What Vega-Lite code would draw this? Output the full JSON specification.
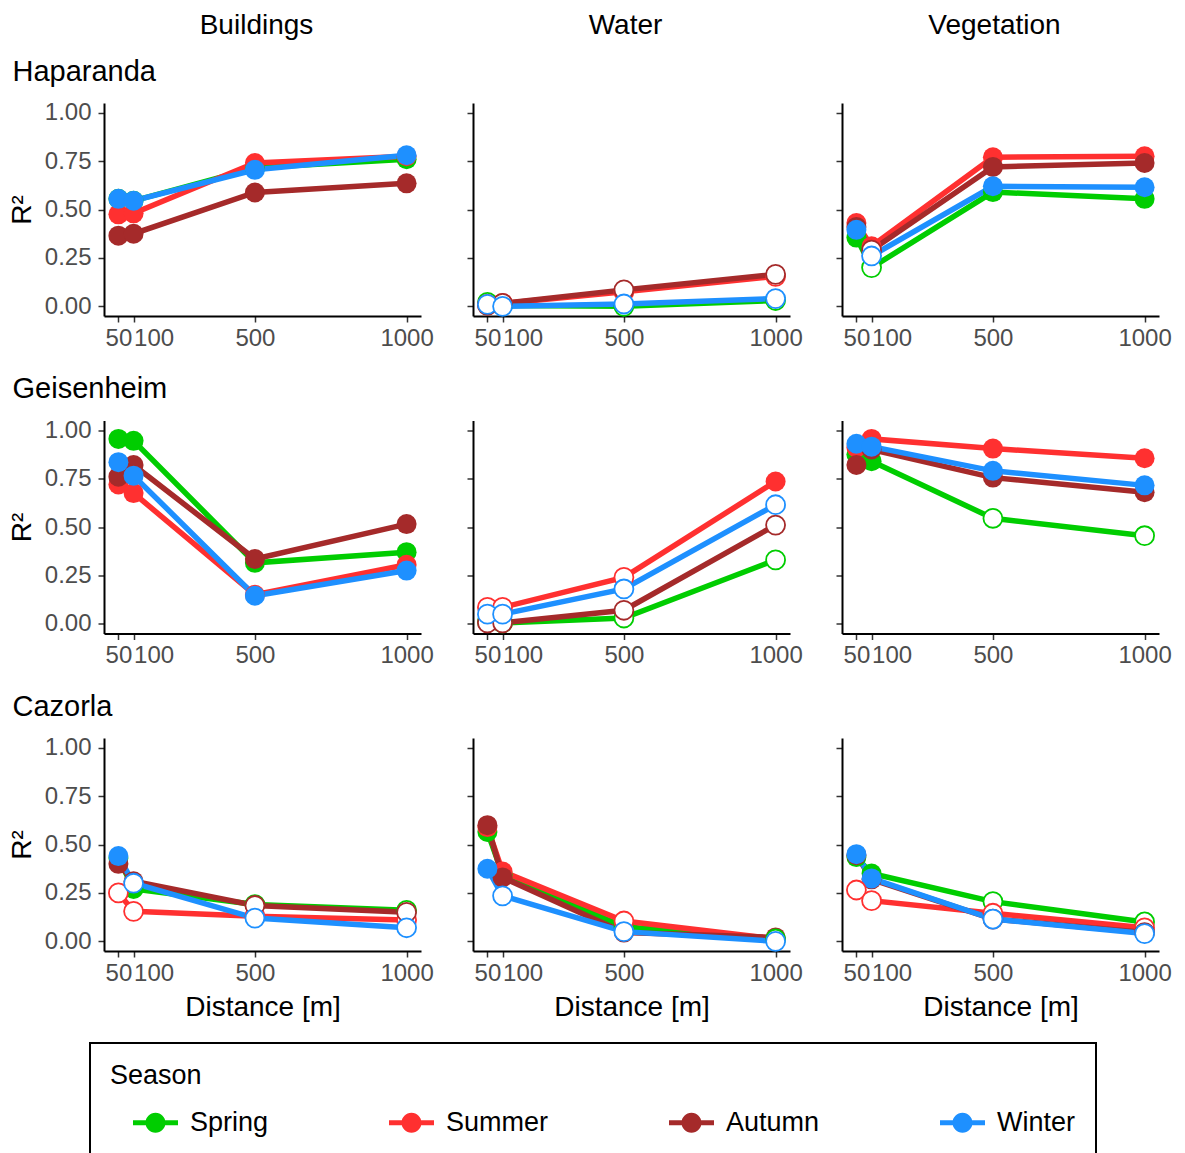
{
"$schema": "https://vega.github.io/schema/vega-lite/v6.json",
"background": "white",
"padding": {"left": 8, "top": 12, "right": 5, "bottom": 130},
"data": {"values": [
{"City":"Haparanda","Land":"Buildings","Season":"Spring","Dist":50,"R2":0.555,"Sig":true},
{"City":"Haparanda","Land":"Buildings","Season":"Spring","Dist":100,"R2":0.545,"Sig":true},
{"City":"Haparanda","Land":"Buildings","Season":"Spring","Dist":500,"R2":0.715,"Sig":true},
{"City":"Haparanda","Land":"Buildings","Season":"Spring","Dist":1000,"R2":0.76,"Sig":true},
{"City":"Haparanda","Land":"Buildings","Season":"Summer","Dist":50,"R2":0.475,"Sig":true},
{"City":"Haparanda","Land":"Buildings","Season":"Summer","Dist":100,"R2":0.48,"Sig":true},
{"City":"Haparanda","Land":"Buildings","Season":"Summer","Dist":500,"R2":0.74,"Sig":true},
{"City":"Haparanda","Land":"Buildings","Season":"Summer","Dist":1000,"R2":0.775,"Sig":true},
{"City":"Haparanda","Land":"Buildings","Season":"Autumn","Dist":50,"R2":0.365,"Sig":true},
{"City":"Haparanda","Land":"Buildings","Season":"Autumn","Dist":100,"R2":0.375,"Sig":true},
{"City":"Haparanda","Land":"Buildings","Season":"Autumn","Dist":500,"R2":0.588,"Sig":true},
{"City":"Haparanda","Land":"Buildings","Season":"Autumn","Dist":1000,"R2":0.635,"Sig":true},
{"City":"Haparanda","Land":"Buildings","Season":"Winter","Dist":50,"R2":0.555,"Sig":true},
{"City":"Haparanda","Land":"Buildings","Season":"Winter","Dist":100,"R2":0.545,"Sig":true},
{"City":"Haparanda","Land":"Buildings","Season":"Winter","Dist":500,"R2":0.705,"Sig":true},
{"City":"Haparanda","Land":"Buildings","Season":"Winter","Dist":1000,"R2":0.78,"Sig":true},
{"City":"Haparanda","Land":"Water","Season":"Spring","Dist":50,"R2":0.02,"Sig":false},
{"City":"Haparanda","Land":"Water","Season":"Spring","Dist":100,"R2":0.005,"Sig":false},
{"City":"Haparanda","Land":"Water","Season":"Spring","Dist":500,"R2":0.0,"Sig":false},
{"City":"Haparanda","Land":"Water","Season":"Spring","Dist":1000,"R2":0.03,"Sig":false},
{"City":"Haparanda","Land":"Water","Season":"Summer","Dist":50,"R2":0.01,"Sig":false},
{"City":"Haparanda","Land":"Water","Season":"Summer","Dist":100,"R2":0.015,"Sig":false},
{"City":"Haparanda","Land":"Water","Season":"Summer","Dist":500,"R2":0.075,"Sig":false},
{"City":"Haparanda","Land":"Water","Season":"Summer","Dist":1000,"R2":0.155,"Sig":false},
{"City":"Haparanda","Land":"Water","Season":"Autumn","Dist":50,"R2":0.005,"Sig":false},
{"City":"Haparanda","Land":"Water","Season":"Autumn","Dist":100,"R2":0.015,"Sig":false},
{"City":"Haparanda","Land":"Water","Season":"Autumn","Dist":500,"R2":0.085,"Sig":false},
{"City":"Haparanda","Land":"Water","Season":"Autumn","Dist":1000,"R2":0.165,"Sig":false},
{"City":"Haparanda","Land":"Water","Season":"Winter","Dist":50,"R2":0.01,"Sig":false},
{"City":"Haparanda","Land":"Water","Season":"Winter","Dist":100,"R2":0.0,"Sig":false},
{"City":"Haparanda","Land":"Water","Season":"Winter","Dist":500,"R2":0.012,"Sig":false},
{"City":"Haparanda","Land":"Water","Season":"Winter","Dist":1000,"R2":0.04,"Sig":false},
{"City":"Haparanda","Land":"Vegetation","Season":"Spring","Dist":50,"R2":0.355,"Sig":true},
{"City":"Haparanda","Land":"Vegetation","Season":"Spring","Dist":100,"R2":0.2,"Sig":false},
{"City":"Haparanda","Land":"Vegetation","Season":"Spring","Dist":500,"R2":0.59,"Sig":true},
{"City":"Haparanda","Land":"Vegetation","Season":"Spring","Dist":1000,"R2":0.555,"Sig":true},
{"City":"Haparanda","Land":"Vegetation","Season":"Summer","Dist":50,"R2":0.43,"Sig":true},
{"City":"Haparanda","Land":"Vegetation","Season":"Summer","Dist":100,"R2":0.31,"Sig":true},
{"City":"Haparanda","Land":"Vegetation","Season":"Summer","Dist":500,"R2":0.77,"Sig":true},
{"City":"Haparanda","Land":"Vegetation","Season":"Summer","Dist":1000,"R2":0.775,"Sig":true},
{"City":"Haparanda","Land":"Vegetation","Season":"Autumn","Dist":50,"R2":0.41,"Sig":true},
{"City":"Haparanda","Land":"Vegetation","Season":"Autumn","Dist":100,"R2":0.29,"Sig":false},
{"City":"Haparanda","Land":"Vegetation","Season":"Autumn","Dist":500,"R2":0.72,"Sig":true},
{"City":"Haparanda","Land":"Vegetation","Season":"Autumn","Dist":1000,"R2":0.74,"Sig":true},
{"City":"Haparanda","Land":"Vegetation","Season":"Winter","Dist":50,"R2":0.395,"Sig":true},
{"City":"Haparanda","Land":"Vegetation","Season":"Winter","Dist":100,"R2":0.26,"Sig":false},
{"City":"Haparanda","Land":"Vegetation","Season":"Winter","Dist":500,"R2":0.62,"Sig":true},
{"City":"Haparanda","Land":"Vegetation","Season":"Winter","Dist":1000,"R2":0.615,"Sig":true},
{"City":"Geisenheim","Land":"Buildings","Season":"Spring","Dist":50,"R2":0.955,"Sig":true},
{"City":"Geisenheim","Land":"Buildings","Season":"Spring","Dist":100,"R2":0.945,"Sig":true},
{"City":"Geisenheim","Land":"Buildings","Season":"Spring","Dist":500,"R2":0.315,"Sig":true},
{"City":"Geisenheim","Land":"Buildings","Season":"Spring","Dist":1000,"R2":0.37,"Sig":true},
{"City":"Geisenheim","Land":"Buildings","Season":"Summer","Dist":50,"R2":0.72,"Sig":true},
{"City":"Geisenheim","Land":"Buildings","Season":"Summer","Dist":100,"R2":0.675,"Sig":true},
{"City":"Geisenheim","Land":"Buildings","Season":"Summer","Dist":500,"R2":0.15,"Sig":true},
{"City":"Geisenheim","Land":"Buildings","Season":"Summer","Dist":1000,"R2":0.305,"Sig":true},
{"City":"Geisenheim","Land":"Buildings","Season":"Autumn","Dist":50,"R2":0.76,"Sig":true},
{"City":"Geisenheim","Land":"Buildings","Season":"Autumn","Dist":100,"R2":0.82,"Sig":true},
{"City":"Geisenheim","Land":"Buildings","Season":"Autumn","Dist":500,"R2":0.335,"Sig":true},
{"City":"Geisenheim","Land":"Buildings","Season":"Autumn","Dist":1000,"R2":0.515,"Sig":true},
{"City":"Geisenheim","Land":"Buildings","Season":"Winter","Dist":50,"R2":0.835,"Sig":true},
{"City":"Geisenheim","Land":"Buildings","Season":"Winter","Dist":100,"R2":0.765,"Sig":true},
{"City":"Geisenheim","Land":"Buildings","Season":"Winter","Dist":500,"R2":0.145,"Sig":true},
{"City":"Geisenheim","Land":"Buildings","Season":"Winter","Dist":1000,"R2":0.275,"Sig":true},
{"City":"Geisenheim","Land":"Water","Season":"Spring","Dist":50,"R2":0.01,"Sig":false},
{"City":"Geisenheim","Land":"Water","Season":"Spring","Dist":100,"R2":0.005,"Sig":false},
{"City":"Geisenheim","Land":"Water","Season":"Spring","Dist":500,"R2":0.03,"Sig":false},
{"City":"Geisenheim","Land":"Water","Season":"Spring","Dist":1000,"R2":0.33,"Sig":false},
{"City":"Geisenheim","Land":"Water","Season":"Summer","Dist":50,"R2":0.085,"Sig":false},
{"City":"Geisenheim","Land":"Water","Season":"Summer","Dist":100,"R2":0.085,"Sig":false},
{"City":"Geisenheim","Land":"Water","Season":"Summer","Dist":500,"R2":0.24,"Sig":false},
{"City":"Geisenheim","Land":"Water","Season":"Summer","Dist":1000,"R2":0.735,"Sig":true},
{"City":"Geisenheim","Land":"Water","Season":"Autumn","Dist":50,"R2":0.005,"Sig":false},
{"City":"Geisenheim","Land":"Water","Season":"Autumn","Dist":100,"R2":0.005,"Sig":false},
{"City":"Geisenheim","Land":"Water","Season":"Autumn","Dist":500,"R2":0.07,"Sig":false},
{"City":"Geisenheim","Land":"Water","Season":"Autumn","Dist":1000,"R2":0.51,"Sig":false},
{"City":"Geisenheim","Land":"Water","Season":"Winter","Dist":50,"R2":0.05,"Sig":false},
{"City":"Geisenheim","Land":"Water","Season":"Winter","Dist":100,"R2":0.05,"Sig":false},
{"City":"Geisenheim","Land":"Water","Season":"Winter","Dist":500,"R2":0.18,"Sig":false},
{"City":"Geisenheim","Land":"Water","Season":"Winter","Dist":1000,"R2":0.615,"Sig":false},
{"City":"Geisenheim","Land":"Vegetation","Season":"Spring","Dist":50,"R2":0.875,"Sig":true},
{"City":"Geisenheim","Land":"Vegetation","Season":"Spring","Dist":100,"R2":0.84,"Sig":true},
{"City":"Geisenheim","Land":"Vegetation","Season":"Spring","Dist":500,"R2":0.545,"Sig":false},
{"City":"Geisenheim","Land":"Vegetation","Season":"Spring","Dist":1000,"R2":0.455,"Sig":false},
{"City":"Geisenheim","Land":"Vegetation","Season":"Summer","Dist":50,"R2":0.91,"Sig":true},
{"City":"Geisenheim","Land":"Vegetation","Season":"Summer","Dist":100,"R2":0.955,"Sig":true},
{"City":"Geisenheim","Land":"Vegetation","Season":"Summer","Dist":500,"R2":0.905,"Sig":true},
{"City":"Geisenheim","Land":"Vegetation","Season":"Summer","Dist":1000,"R2":0.855,"Sig":true},
{"City":"Geisenheim","Land":"Vegetation","Season":"Autumn","Dist":50,"R2":0.82,"Sig":true},
{"City":"Geisenheim","Land":"Vegetation","Season":"Autumn","Dist":100,"R2":0.9,"Sig":true},
{"City":"Geisenheim","Land":"Vegetation","Season":"Autumn","Dist":500,"R2":0.755,"Sig":true},
{"City":"Geisenheim","Land":"Vegetation","Season":"Autumn","Dist":1000,"R2":0.68,"Sig":true},
{"City":"Geisenheim","Land":"Vegetation","Season":"Winter","Dist":50,"R2":0.93,"Sig":true},
{"City":"Geisenheim","Land":"Vegetation","Season":"Winter","Dist":100,"R2":0.915,"Sig":true},
{"City":"Geisenheim","Land":"Vegetation","Season":"Winter","Dist":500,"R2":0.79,"Sig":true},
{"City":"Geisenheim","Land":"Vegetation","Season":"Winter","Dist":1000,"R2":0.715,"Sig":true},
{"City":"Cazorla","Land":"Buildings","Season":"Spring","Dist":50,"R2":0.43,"Sig":true},
{"City":"Cazorla","Land":"Buildings","Season":"Spring","Dist":100,"R2":0.27,"Sig":true},
{"City":"Cazorla","Land":"Buildings","Season":"Spring","Dist":500,"R2":0.19,"Sig":false},
{"City":"Cazorla","Land":"Buildings","Season":"Spring","Dist":1000,"R2":0.16,"Sig":false},
{"City":"Cazorla","Land":"Buildings","Season":"Summer","Dist":50,"R2":0.25,"Sig":false},
{"City":"Cazorla","Land":"Buildings","Season":"Summer","Dist":100,"R2":0.155,"Sig":false},
{"City":"Cazorla","Land":"Buildings","Season":"Summer","Dist":500,"R2":0.13,"Sig":false},
{"City":"Cazorla","Land":"Buildings","Season":"Summer","Dist":1000,"R2":0.11,"Sig":false},
{"City":"Cazorla","Land":"Buildings","Season":"Autumn","Dist":50,"R2":0.4,"Sig":true},
{"City":"Cazorla","Land":"Buildings","Season":"Autumn","Dist":100,"R2":0.31,"Sig":true},
{"City":"Cazorla","Land":"Buildings","Season":"Autumn","Dist":500,"R2":0.185,"Sig":false},
{"City":"Cazorla","Land":"Buildings","Season":"Autumn","Dist":1000,"R2":0.15,"Sig":false},
{"City":"Cazorla","Land":"Buildings","Season":"Winter","Dist":50,"R2":0.44,"Sig":true},
{"City":"Cazorla","Land":"Buildings","Season":"Winter","Dist":100,"R2":0.3,"Sig":false},
{"City":"Cazorla","Land":"Buildings","Season":"Winter","Dist":500,"R2":0.12,"Sig":false},
{"City":"Cazorla","Land":"Buildings","Season":"Winter","Dist":1000,"R2":0.07,"Sig":false},
{"City":"Cazorla","Land":"Water","Season":"Spring","Dist":50,"R2":0.565,"Sig":true},
{"City":"Cazorla","Land":"Water","Season":"Spring","Dist":100,"R2":0.345,"Sig":true},
{"City":"Cazorla","Land":"Water","Season":"Spring","Dist":500,"R2":0.075,"Sig":false},
{"City":"Cazorla","Land":"Water","Season":"Spring","Dist":1000,"R2":0.012,"Sig":false},
{"City":"Cazorla","Land":"Water","Season":"Summer","Dist":50,"R2":0.59,"Sig":true},
{"City":"Cazorla","Land":"Water","Season":"Summer","Dist":100,"R2":0.36,"Sig":true},
{"City":"Cazorla","Land":"Water","Season":"Summer","Dist":500,"R2":0.105,"Sig":false},
{"City":"Cazorla","Land":"Water","Season":"Summer","Dist":1000,"R2":0.012,"Sig":true},
{"City":"Cazorla","Land":"Water","Season":"Autumn","Dist":50,"R2":0.6,"Sig":true},
{"City":"Cazorla","Land":"Water","Season":"Autumn","Dist":100,"R2":0.33,"Sig":true},
{"City":"Cazorla","Land":"Water","Season":"Autumn","Dist":500,"R2":0.045,"Sig":true},
{"City":"Cazorla","Land":"Water","Season":"Autumn","Dist":1000,"R2":0.02,"Sig":true},
{"City":"Cazorla","Land":"Water","Season":"Winter","Dist":50,"R2":0.375,"Sig":true},
{"City":"Cazorla","Land":"Water","Season":"Winter","Dist":100,"R2":0.235,"Sig":false},
{"City":"Cazorla","Land":"Water","Season":"Winter","Dist":500,"R2":0.05,"Sig":false},
{"City":"Cazorla","Land":"Water","Season":"Winter","Dist":1000,"R2":0.0,"Sig":false},
{"City":"Cazorla","Land":"Vegetation","Season":"Spring","Dist":50,"R2":0.435,"Sig":true},
{"City":"Cazorla","Land":"Vegetation","Season":"Spring","Dist":100,"R2":0.35,"Sig":true},
{"City":"Cazorla","Land":"Vegetation","Season":"Spring","Dist":500,"R2":0.205,"Sig":false},
{"City":"Cazorla","Land":"Vegetation","Season":"Spring","Dist":1000,"R2":0.1,"Sig":false},
{"City":"Cazorla","Land":"Vegetation","Season":"Summer","Dist":50,"R2":0.265,"Sig":false},
{"City":"Cazorla","Land":"Vegetation","Season":"Summer","Dist":100,"R2":0.21,"Sig":false},
{"City":"Cazorla","Land":"Vegetation","Season":"Summer","Dist":500,"R2":0.145,"Sig":false},
{"City":"Cazorla","Land":"Vegetation","Season":"Summer","Dist":1000,"R2":0.07,"Sig":false},
{"City":"Cazorla","Land":"Vegetation","Season":"Autumn","Dist":50,"R2":0.445,"Sig":true},
{"City":"Cazorla","Land":"Vegetation","Season":"Autumn","Dist":100,"R2":0.32,"Sig":true},
{"City":"Cazorla","Land":"Vegetation","Season":"Autumn","Dist":500,"R2":0.115,"Sig":false},
{"City":"Cazorla","Land":"Vegetation","Season":"Autumn","Dist":1000,"R2":0.045,"Sig":false},
{"City":"Cazorla","Land":"Vegetation","Season":"Winter","Dist":50,"R2":0.45,"Sig":true},
{"City":"Cazorla","Land":"Vegetation","Season":"Winter","Dist":100,"R2":0.325,"Sig":true},
{"City":"Cazorla","Land":"Vegetation","Season":"Winter","Dist":500,"R2":0.115,"Sig":false},
{"City":"Cazorla","Land":"Vegetation","Season":"Winter","Dist":1000,"R2":0.04,"Sig":false}
]},
"columns": 3,
"bounds": "flush",
"spacing": {"row": 104.5, "column": 52},
"concat": [
{"width":317,"height":213,
 "title":{"text":"Buildings","anchor":"middle","frame":"group","offset":-5,"baseline":"alphabetic","dx":-6},
 "transform":[{"filter":"datum.City === 'Haparanda' && datum.Land === 'Buildings'"}],
 "resolve":{"axis":{"x":"independent"}},
 "layer":[
  {"mark":{"type":"line","strokeWidth":5.5},"encoding":{
    "x":{"field":"Dist","type":"quantitative","scale":{"domain":[2.5,1047.5],"nice":false,"zero":false},"axis":{"values":[50,100,500,1000],"format":"d","title":null,"labelAlign":{"condition":{"test":"datum.value === 100","value":"left"},"value":"center"}}},
    "y":{"field":"R2","type":"quantitative","scale":{"domain":[-0.05,1.05],"nice":false,"zero":false},"axis":{"values":[0,0.25,0.5,0.75,1],"format":".2f","title":"R²"}},
    "stroke":{"field":"Season","type":"nominal","scale":{"domain":["Autumn","Spring","Summer","Winter"],"range":["#A52A2A","#00CD00","#FF3030","#1E90FF"]},"legend":null}}},
  {"transform":[{"filter":"datum.Sig"}],"mark":{"type":"point","filled":true,"size":400,"opacity":1},"encoding":{
    "x":{"field":"Dist","type":"quantitative","axis":null},
    "y":{"field":"R2","type":"quantitative"},
    "color":{"field":"Season","type":"nominal","title":"Season","scale":{"domain":["Spring","Summer","Autumn","Winter"],"range":["#00CD00","#FF3030","#A52A2A","#1E90FF"]},"legend":{"orient":"none","legendX":-14,"legendY":940}}}},
  {"transform":[{"filter":"!datum.Sig"}],"mark":{"type":"circle","fill":"white","strokeWidth":1.8,"size":360,"opacity":1},"encoding":{
    "x":{"field":"Dist","type":"quantitative","axis":{"orient":"top","domain":false,"ticks":false,"labels":false,"title":"Haparanda","titleX":-92,"titleY":-23,"titleAlign":"left","titleAnchor":"start","titleBaseline":"alphabetic","titleFontSize":29,"titleAngle":0}},
    "y":{"field":"R2","type":"quantitative"},
    "stroke":{"field":"Season","type":"nominal","scale":{"domain":["Autumn","Spring","Summer","Winter"],"range":["#A52A2A","#00CD00","#FF3030","#1E90FF"]},"legend":null}}}
 ]},
{"width":317,"height":213,
 "title":{"text":"Water","anchor":"middle","frame":"group","offset":41,"baseline":"alphabetic","dx":-6},
 "transform":[{"filter":"datum.City === 'Haparanda' && datum.Land === 'Water'"}],
 "layer":[
  {"mark":{"type":"line","strokeWidth":5.5},"encoding":{
    "x":{"field":"Dist","type":"quantitative","scale":{"domain":[2.5,1047.5],"nice":false,"zero":false},"axis":{"values":[50,100,500,1000],"format":"d","title":null,"labelAlign":{"condition":{"test":"datum.value === 100","value":"left"},"value":"center"}}},
    "y":{"field":"R2","type":"quantitative","scale":{"domain":[-0.05,1.05],"nice":false,"zero":false},"axis":{"values":[0,0.25,0.5,0.75,1],"labels":false,"title":null}},
    "stroke":{"field":"Season","type":"nominal","scale":{"domain":["Autumn","Spring","Summer","Winter"],"range":["#A52A2A","#00CD00","#FF3030","#1E90FF"]},"legend":null}}},
  {"transform":[{"filter":"datum.Sig"}],"mark":{"type":"point","filled":true,"size":400,"opacity":1},"encoding":{
    "x":{"field":"Dist","type":"quantitative"},
    "y":{"field":"R2","type":"quantitative"},
    "color":{"field":"Season","type":"nominal","title":"Season","scale":{"domain":["Spring","Summer","Autumn","Winter"],"range":["#00CD00","#FF3030","#A52A2A","#1E90FF"]},"legend":{"orient":"none","legendX":-14,"legendY":940}}}},
  {"transform":[{"filter":"!datum.Sig"}],"mark":{"type":"circle","fill":"white","strokeWidth":1.8,"size":360,"opacity":1},"encoding":{
    "x":{"field":"Dist","type":"quantitative"},
    "y":{"field":"R2","type":"quantitative"},
    "stroke":{"field":"Season","type":"nominal","scale":{"domain":["Autumn","Spring","Summer","Winter"],"range":["#A52A2A","#00CD00","#FF3030","#1E90FF"]},"legend":null}}}
 ]},
{"width":317,"height":213,
 "title":{"text":"Vegetation","anchor":"middle","frame":"group","offset":41,"baseline":"alphabetic","dx":-6},
 "transform":[{"filter":"datum.City === 'Haparanda' && datum.Land === 'Vegetation'"}],
 "layer":[
  {"mark":{"type":"line","strokeWidth":5.5},"encoding":{
    "x":{"field":"Dist","type":"quantitative","scale":{"domain":[2.5,1047.5],"nice":false,"zero":false},"axis":{"values":[50,100,500,1000],"format":"d","title":null,"labelAlign":{"condition":{"test":"datum.value === 100","value":"left"},"value":"center"}}},
    "y":{"field":"R2","type":"quantitative","scale":{"domain":[-0.05,1.05],"nice":false,"zero":false},"axis":{"values":[0,0.25,0.5,0.75,1],"labels":false,"title":null}},
    "stroke":{"field":"Season","type":"nominal","scale":{"domain":["Autumn","Spring","Summer","Winter"],"range":["#A52A2A","#00CD00","#FF3030","#1E90FF"]},"legend":null}}},
  {"transform":[{"filter":"datum.Sig"}],"mark":{"type":"point","filled":true,"size":400,"opacity":1},"encoding":{
    "x":{"field":"Dist","type":"quantitative"},
    "y":{"field":"R2","type":"quantitative"},
    "color":{"field":"Season","type":"nominal","title":"Season","scale":{"domain":["Spring","Summer","Autumn","Winter"],"range":["#00CD00","#FF3030","#A52A2A","#1E90FF"]},"legend":{"orient":"none","legendX":-14,"legendY":940}}}},
  {"transform":[{"filter":"!datum.Sig"}],"mark":{"type":"circle","fill":"white","strokeWidth":1.8,"size":360,"opacity":1},"encoding":{
    "x":{"field":"Dist","type":"quantitative"},
    "y":{"field":"R2","type":"quantitative"},
    "stroke":{"field":"Season","type":"nominal","scale":{"domain":["Autumn","Spring","Summer","Winter"],"range":["#A52A2A","#00CD00","#FF3030","#1E90FF"]},"legend":null}}}
 ]},
{"width":317,"height":213,
 "transform":[{"filter":"datum.City === 'Geisenheim' && datum.Land === 'Buildings'"}],
 "resolve":{"axis":{"x":"independent"}},
 "layer":[
  {"mark":{"type":"line","strokeWidth":5.5},"encoding":{
    "x":{"field":"Dist","type":"quantitative","scale":{"domain":[2.5,1047.5],"nice":false,"zero":false},"axis":{"values":[50,100,500,1000],"format":"d","title":null,"labelAlign":{"condition":{"test":"datum.value === 100","value":"left"},"value":"center"}}},
    "y":{"field":"R2","type":"quantitative","scale":{"domain":[-0.05,1.05],"nice":false,"zero":false},"axis":{"values":[0,0.25,0.5,0.75,1],"format":".2f","title":"R²"}},
    "stroke":{"field":"Season","type":"nominal","scale":{"domain":["Autumn","Spring","Summer","Winter"],"range":["#A52A2A","#00CD00","#FF3030","#1E90FF"]},"legend":null}}},
  {"transform":[{"filter":"datum.Sig"}],"mark":{"type":"point","filled":true,"size":400,"opacity":1},"encoding":{
    "x":{"field":"Dist","type":"quantitative","axis":null},
    "y":{"field":"R2","type":"quantitative"},
    "color":{"field":"Season","type":"nominal","title":"Season","scale":{"domain":["Spring","Summer","Autumn","Winter"],"range":["#00CD00","#FF3030","#A52A2A","#1E90FF"]},"legend":{"orient":"none","legendX":-14,"legendY":940}}}},
  {"transform":[{"filter":"!datum.Sig"}],"mark":{"type":"circle","fill":"white","strokeWidth":1.8,"size":360,"opacity":1},"encoding":{
    "x":{"field":"Dist","type":"quantitative","axis":{"orient":"top","domain":false,"ticks":false,"labels":false,"title":"Geisenheim","titleX":-92,"titleY":-23,"titleAlign":"left","titleAnchor":"start","titleBaseline":"alphabetic","titleFontSize":29,"titleAngle":0}},
    "y":{"field":"R2","type":"quantitative"},
    "stroke":{"field":"Season","type":"nominal","scale":{"domain":["Autumn","Spring","Summer","Winter"],"range":["#A52A2A","#00CD00","#FF3030","#1E90FF"]},"legend":null}}}
 ]},
{"width":317,"height":213,
 "transform":[{"filter":"datum.City === 'Geisenheim' && datum.Land === 'Water'"}],
 "layer":[
  {"mark":{"type":"line","strokeWidth":5.5},"encoding":{
    "x":{"field":"Dist","type":"quantitative","scale":{"domain":[2.5,1047.5],"nice":false,"zero":false},"axis":{"values":[50,100,500,1000],"format":"d","title":null,"labelAlign":{"condition":{"test":"datum.value === 100","value":"left"},"value":"center"}}},
    "y":{"field":"R2","type":"quantitative","scale":{"domain":[-0.05,1.05],"nice":false,"zero":false},"axis":{"values":[0,0.25,0.5,0.75,1],"labels":false,"title":null}},
    "stroke":{"field":"Season","type":"nominal","scale":{"domain":["Autumn","Spring","Summer","Winter"],"range":["#A52A2A","#00CD00","#FF3030","#1E90FF"]},"legend":null}}},
  {"transform":[{"filter":"datum.Sig"}],"mark":{"type":"point","filled":true,"size":400,"opacity":1},"encoding":{
    "x":{"field":"Dist","type":"quantitative"},
    "y":{"field":"R2","type":"quantitative"},
    "color":{"field":"Season","type":"nominal","title":"Season","scale":{"domain":["Spring","Summer","Autumn","Winter"],"range":["#00CD00","#FF3030","#A52A2A","#1E90FF"]},"legend":{"orient":"none","legendX":-14,"legendY":940}}}},
  {"transform":[{"filter":"!datum.Sig"}],"mark":{"type":"circle","fill":"white","strokeWidth":1.8,"size":360,"opacity":1},"encoding":{
    "x":{"field":"Dist","type":"quantitative"},
    "y":{"field":"R2","type":"quantitative"},
    "stroke":{"field":"Season","type":"nominal","scale":{"domain":["Autumn","Spring","Summer","Winter"],"range":["#A52A2A","#00CD00","#FF3030","#1E90FF"]},"legend":null}}}
 ]},
{"width":317,"height":213,
 "transform":[{"filter":"datum.City === 'Geisenheim' && datum.Land === 'Vegetation'"}],
 "layer":[
  {"mark":{"type":"line","strokeWidth":5.5},"encoding":{
    "x":{"field":"Dist","type":"quantitative","scale":{"domain":[2.5,1047.5],"nice":false,"zero":false},"axis":{"values":[50,100,500,1000],"format":"d","title":null,"labelAlign":{"condition":{"test":"datum.value === 100","value":"left"},"value":"center"}}},
    "y":{"field":"R2","type":"quantitative","scale":{"domain":[-0.05,1.05],"nice":false,"zero":false},"axis":{"values":[0,0.25,0.5,0.75,1],"labels":false,"title":null}},
    "stroke":{"field":"Season","type":"nominal","scale":{"domain":["Autumn","Spring","Summer","Winter"],"range":["#A52A2A","#00CD00","#FF3030","#1E90FF"]},"legend":null}}},
  {"transform":[{"filter":"datum.Sig"}],"mark":{"type":"point","filled":true,"size":400,"opacity":1},"encoding":{
    "x":{"field":"Dist","type":"quantitative"},
    "y":{"field":"R2","type":"quantitative"},
    "color":{"field":"Season","type":"nominal","title":"Season","scale":{"domain":["Spring","Summer","Autumn","Winter"],"range":["#00CD00","#FF3030","#A52A2A","#1E90FF"]},"legend":{"orient":"none","legendX":-14,"legendY":940}}}},
  {"transform":[{"filter":"!datum.Sig"}],"mark":{"type":"circle","fill":"white","strokeWidth":1.8,"size":360,"opacity":1},"encoding":{
    "x":{"field":"Dist","type":"quantitative"},
    "y":{"field":"R2","type":"quantitative"},
    "stroke":{"field":"Season","type":"nominal","scale":{"domain":["Autumn","Spring","Summer","Winter"],"range":["#A52A2A","#00CD00","#FF3030","#1E90FF"]},"legend":null}}}
 ]},
{"width":317,"height":213,
 "transform":[{"filter":"datum.City === 'Cazorla' && datum.Land === 'Buildings'"}],
 "resolve":{"axis":{"x":"independent"}},
 "layer":[
  {"mark":{"type":"line","strokeWidth":5.5},"encoding":{
    "x":{"field":"Dist","type":"quantitative","scale":{"domain":[2.5,1047.5],"nice":false,"zero":false},"axis":{"values":[50,100,500,1000],"format":"d","title":"Distance [m]","labelAlign":{"condition":{"test":"datum.value === 100","value":"left"},"value":"center"}}},
    "y":{"field":"R2","type":"quantitative","scale":{"domain":[-0.05,1.05],"nice":false,"zero":false},"axis":{"values":[0,0.25,0.5,0.75,1],"format":".2f","title":"R²"}},
    "stroke":{"field":"Season","type":"nominal","scale":{"domain":["Autumn","Spring","Summer","Winter"],"range":["#A52A2A","#00CD00","#FF3030","#1E90FF"]},"legend":null}}},
  {"transform":[{"filter":"datum.Sig"}],"mark":{"type":"point","filled":true,"size":400,"opacity":1},"encoding":{
    "x":{"field":"Dist","type":"quantitative","axis":null},
    "y":{"field":"R2","type":"quantitative"},
    "color":{"field":"Season","type":"nominal","title":"Season","scale":{"domain":["Spring","Summer","Autumn","Winter"],"range":["#00CD00","#FF3030","#A52A2A","#1E90FF"]},"legend":{"orient":"none","legendX":-14,"legendY":940}}}},
  {"transform":[{"filter":"!datum.Sig"}],"mark":{"type":"circle","fill":"white","strokeWidth":1.8,"size":360,"opacity":1},"encoding":{
    "x":{"field":"Dist","type":"quantitative","axis":{"orient":"top","domain":false,"ticks":false,"labels":false,"title":"Cazorla","titleX":-92,"titleY":-23,"titleAlign":"left","titleAnchor":"start","titleBaseline":"alphabetic","titleFontSize":29,"titleAngle":0}},
    "y":{"field":"R2","type":"quantitative"},
    "stroke":{"field":"Season","type":"nominal","scale":{"domain":["Autumn","Spring","Summer","Winter"],"range":["#A52A2A","#00CD00","#FF3030","#1E90FF"]},"legend":null}}}
 ]},
{"width":317,"height":213,
 "transform":[{"filter":"datum.City === 'Cazorla' && datum.Land === 'Water'"}],
 "layer":[
  {"mark":{"type":"line","strokeWidth":5.5},"encoding":{
    "x":{"field":"Dist","type":"quantitative","scale":{"domain":[2.5,1047.5],"nice":false,"zero":false},"axis":{"values":[50,100,500,1000],"format":"d","title":"Distance [m]","labelAlign":{"condition":{"test":"datum.value === 100","value":"left"},"value":"center"}}},
    "y":{"field":"R2","type":"quantitative","scale":{"domain":[-0.05,1.05],"nice":false,"zero":false},"axis":{"values":[0,0.25,0.5,0.75,1],"labels":false,"title":null}},
    "stroke":{"field":"Season","type":"nominal","scale":{"domain":["Autumn","Spring","Summer","Winter"],"range":["#A52A2A","#00CD00","#FF3030","#1E90FF"]},"legend":null}}},
  {"transform":[{"filter":"datum.Sig"}],"mark":{"type":"point","filled":true,"size":400,"opacity":1},"encoding":{
    "x":{"field":"Dist","type":"quantitative"},
    "y":{"field":"R2","type":"quantitative"},
    "color":{"field":"Season","type":"nominal","title":"Season","scale":{"domain":["Spring","Summer","Autumn","Winter"],"range":["#00CD00","#FF3030","#A52A2A","#1E90FF"]},"legend":{"orient":"none","legendX":-14,"legendY":940}}}},
  {"transform":[{"filter":"!datum.Sig"}],"mark":{"type":"circle","fill":"white","strokeWidth":1.8,"size":360,"opacity":1},"encoding":{
    "x":{"field":"Dist","type":"quantitative"},
    "y":{"field":"R2","type":"quantitative"},
    "stroke":{"field":"Season","type":"nominal","scale":{"domain":["Autumn","Spring","Summer","Winter"],"range":["#A52A2A","#00CD00","#FF3030","#1E90FF"]},"legend":null}}}
 ]},
{"width":317,"height":213,
 "transform":[{"filter":"datum.City === 'Cazorla' && datum.Land === 'Vegetation'"}],
 "layer":[
  {"mark":{"type":"line","strokeWidth":5.5},"encoding":{
    "x":{"field":"Dist","type":"quantitative","scale":{"domain":[2.5,1047.5],"nice":false,"zero":false},"axis":{"values":[50,100,500,1000],"format":"d","title":"Distance [m]","labelAlign":{"condition":{"test":"datum.value === 100","value":"left"},"value":"center"}}},
    "y":{"field":"R2","type":"quantitative","scale":{"domain":[-0.05,1.05],"nice":false,"zero":false},"axis":{"values":[0,0.25,0.5,0.75,1],"labels":false,"title":null}},
    "stroke":{"field":"Season","type":"nominal","scale":{"domain":["Autumn","Spring","Summer","Winter"],"range":["#A52A2A","#00CD00","#FF3030","#1E90FF"]},"legend":null}}},
  {"transform":[{"filter":"datum.Sig"}],"mark":{"type":"point","filled":true,"size":400,"opacity":1},"encoding":{
    "x":{"field":"Dist","type":"quantitative"},
    "y":{"field":"R2","type":"quantitative"},
    "color":{"field":"Season","type":"nominal","title":"Season","scale":{"domain":["Spring","Summer","Autumn","Winter"],"range":["#00CD00","#FF3030","#A52A2A","#1E90FF"]},"legend":{"orient":"none","legendX":-14,"legendY":940}}}},
  {"transform":[{"filter":"!datum.Sig"}],"mark":{"type":"circle","fill":"white","strokeWidth":1.8,"size":360,"opacity":1},"encoding":{
    "x":{"field":"Dist","type":"quantitative"},
    "y":{"field":"R2","type":"quantitative"},
    "stroke":{"field":"Season","type":"nominal","scale":{"domain":["Autumn","Spring","Summer","Winter"],"range":["#A52A2A","#00CD00","#FF3030","#1E90FF"]},"legend":null}}}
 ]}
],
"config": {
 "font": "Liberation Sans",
 "view": {"stroke": null},
 "title": {"font": "Liberation Sans", "fontSize": 28, "fontWeight": "normal", "color": "black"},
 "axis": {"grid": false, "labelFont": "Liberation Sans", "labelFontSize": 24, "labelColor": "#4D4D4D", "labelOverlap": false, "labelFlush": false, "tickSize": 6, "tickColor": "#333333", "tickWidth": 1.5, "domainColor": "#000000", "domainWidth": 2, "titleFont": "Liberation Sans", "titleFontSize": 28, "titleFontWeight": "normal", "titleColor": "black"},
 "axisX": {"labelPadding": 4, "titlePadding": 8},
 "axisY": {"labelPadding": 7, "titlePadding": 8},
 "legend": {"direction": "horizontal", "columns": 4, "titleFont": "Liberation Sans", "titleFontSize": 27, "titleFontWeight": "normal", "titleColor": "black", "titlePadding": 10, "labelFont": "Liberation Sans", "labelFontSize": 27, "labelColor": "black", "labelOffset": 12, "symbolType": "M-1,-0.11L1,-0.11L1,0.11L-1,0.11Z M0.444,0A0.444,0.444,0,1,1,-0.444,0A0.444,0.444,0,1,1,0.444,0Z", "symbolSize": 2025, "symbolStrokeWidth": 0, "symbolOffset": 23, "symbolOpacity": 1, "columnPadding": 97, "padding": 20, "strokeColor": "black", "strokeWidth": 2}
}
}
